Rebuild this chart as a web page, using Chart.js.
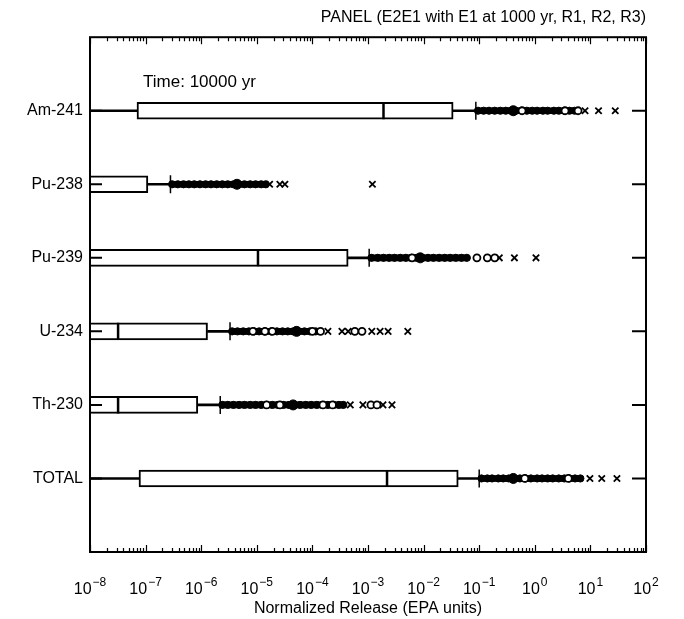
<!DOCTYPE html>
<html><head><meta charset="utf-8">
<script src="https://cdn.jsdelivr.net/npm/chart.js@4/dist/chart.umd.min.js"></script>
<style>html,body{margin:0;padding:0;background:#fff;}#wrap{width:684px;height:619px;position:relative;}</style>
</head><body><div id="wrap"><canvas id="c"></canvas></div>
<script>
const categories = ['Am-241', 'Pu-238', 'Pu-239', 'U-234', 'Th-230', 'TOTAL'];
const whiskerLow = [1e-9, null, null, null, null, 1e-9];
const q1 = [7.0e-8, 1e-9, 1e-9, 1e-9, 1e-9, 7.6e-8];
const median = [1.9e-3, 5e-9, 1.05e-5, 3.2e-8, 3.2e-8, 2.2e-3];
const q3 = [3.4e-2, 1.1e-7, 4.4e-4, 1.3e-6, 8.7e-7, 4.2e-2];
const whiskerHigh = [8.7e-2, 2.8e-7, 1.05e-3, 3.3e-6, 2.2e-6, 1.0e-1];
const meanValue = [0.41, 4.4e-6, 8.7e-3, 5.2e-5, 4.5e-5, 0.41];

const am241Dense = [0.095, 0.12, 0.15, 0.19, 0.24, 0.30, 0.37, 0.46, 0.58, 0.72, 0.90, 1.1, 1.4, 1.7, 2.2, 2.7, 3.4, 4.2, 5.2];
const pu238Dense = [3.0e-7, 3.8e-7, 4.8e-7, 6.0e-7, 7.5e-7, 9.5e-7, 1.2e-6, 1.5e-6, 1.9e-6, 2.4e-6, 3.0e-6, 3.8e-6, 4.8e-6, 6.0e-6, 7.6e-6, 9.5e-6, 1.2e-5, 1.45e-5];
const pu239Dense = [1.15e-3, 1.5e-3, 1.9e-3, 2.4e-3, 3.0e-3, 3.8e-3, 4.8e-3, 6.0e-3, 7.5e-3, 9.5e-3, 1.2e-2, 1.5e-2, 1.9e-2, 2.4e-2, 3.0e-2, 3.8e-2, 4.8e-2, 6.0e-2];
const u234Dense = [3.6e-6, 4.5e-6, 5.7e-6, 7.2e-6, 9.0e-6, 1.1e-5, 1.4e-5, 1.8e-5, 2.3e-5, 2.9e-5, 3.6e-5, 4.5e-5, 5.7e-5, 7.2e-5, 9.0e-5, 1.15e-4];
const th230Dense = [2.4e-6, 3.0e-6, 3.8e-6, 4.8e-6, 6.0e-6, 7.6e-6, 9.5e-6, 1.2e-5, 1.5e-5, 1.9e-5, 2.4e-5, 3.0e-5, 3.8e-5, 4.8e-5, 6.0e-5, 7.6e-5, 9.5e-5, 1.2e-4, 1.5e-4, 1.9e-4, 2.4e-4, 3.0e-4, 3.6e-4];
const totalDense = [0.11, 0.14, 0.17, 0.22, 0.27, 0.34, 0.43, 0.54, 0.68, 0.85, 1.1, 1.35, 1.7, 2.1, 2.7, 3.4, 4.2, 5.3, 6.6];

const am241Open = [0.59, 3.5, 6.0];
const pu238Open = [];
const pu239Open = [6.2e-3, 9.1e-2, 0.14, 0.19];
const u234Open = [8.5e-6, 1.4e-5, 1.9e-5, 1.0e-4, 1.4e-4, 5.8e-4, 7.8e-4];
const th230Open = [1.5e-5, 2.6e-5, 1.55e-4, 2.3e-4, 1.13e-3, 1.45e-3];
const totalOpen = [0.66, 4.0];

const am241Cross = [8.0, 14, 28];
const pu238Cross = [1.7e-5, 2.6e-5, 3.2e-5, 1.2e-3];
const pu239Cross = [0.23, 0.43, 1.05];
const u234Cross = [1.9e-4, 3.4e-4, 4.4e-4, 1.17e-3, 1.65e-3, 2.3e-3, 5.2e-3];
const th230Cross = [4.8e-4, 8.1e-4, 1.86e-3, 2.7e-3];
const totalCross = [9.8, 16, 30];

const tickExponents = [-8, -7, -6, -5, -4, -3, -2, -1, 0, 1, 2];
const minorMultipliers = [2, 3, 4, 5, 6, 7, 8, 9];
const titleText = 'PANEL (E2E1 with E1 at 1000 yr, R1, R2, R3)';
const noteText = 'Time: 10000 yr';
const xTitle = 'Normalized Release (EPA units)';

const FONT = '"Liberation Sans", Arial, Helvetica, sans-serif';
const denseLists = [am241Dense, pu238Dense, pu239Dense, u234Dense, th230Dense, totalDense];
const openLists = [am241Open, pu238Open, pu239Open, u234Open, th230Open, totalOpen];
const crossLists = [am241Cross, pu238Cross, pu239Cross, u234Cross, th230Cross, totalCross];
const toPoints = lists => lists.flatMap((arr, i) => arr.map(v => ({x: v, y: i})));

const decorations = {
  id: 'decorations',
  afterDatasetsDraw(chart) {
    const {ctx, chartArea: a, scales: {x, y}} = chart;
    ctx.save();
    ctx.strokeStyle = '#000';
    ctx.fillStyle = '#000';
    ctx.lineWidth = 2;
    ctx.strokeRect(a.left, a.top, a.right - a.left, a.bottom - a.top);
    ctx.lineWidth = 1.2;
    ctx.beginPath();
    tickExponents.forEach((e, k) => {
      const px = Math.round(x.getPixelForValue(Math.pow(10, e))) + 0.5;
      ctx.moveTo(px, a.bottom); ctx.lineTo(px, a.bottom - 7);
      ctx.moveTo(px, a.top); ctx.lineTo(px, a.top + 7);
      if (k < tickExponents.length - 1) {
        minorMultipliers.forEach(m => {
          const mx = Math.round(x.getPixelForValue(m * Math.pow(10, e))) + 0.5;
          ctx.moveTo(mx, a.bottom); ctx.lineTo(mx, a.bottom - 4);
          ctx.moveTo(mx, a.top); ctx.lineTo(mx, a.top + 4);
        });
      }
    });
    ctx.stroke();
    ctx.lineWidth = 2;
    ctx.beginPath();
    categories.forEach((c, i) => {
      const py = y.getPixelForValue(i);
      ctx.moveTo(a.left, py); ctx.lineTo(a.left + 12, py);
      ctx.moveTo(a.right - 14, py); ctx.lineTo(a.right, py);
    });
    ctx.stroke();
    // x tick labels with superscript exponents
    ctx.textBaseline = 'alphabetic';
    ctx.textAlign = 'left';
    tickExponents.forEach(e => {
      const px = x.getPixelForValue(Math.pow(10, e));
      const sup = e < 0 ? '\u2212' + (-e) : String(e);
      ctx.font = '16px ' + FONT;
      const w1 = ctx.measureText('10').width;
      ctx.font = '12px ' + FONT;
      const w2 = ctx.measureText(sup).width;
      const sx = px - (w1 + w2 + 1) / 2;
      ctx.font = '16px ' + FONT;
      ctx.fillText('10', sx, a.bottom + 42);
      ctx.font = '12px ' + FONT;
      ctx.fillText(sup, sx + w1 + 1, a.bottom + 34);
    });
    // annotation
    ctx.font = '17px ' + FONT;
    ctx.textBaseline = 'middle';
    ctx.fillText(noteText, x.getPixelForValue(9e-8), y.getPixelForValue(-0.39));
    ctx.restore();
  }
};

new Chart(document.getElementById('c'), {
  type: 'scatter',
  data: {
    datasets: [
      { label: 'open', data: toPoints(openLists), pointStyle: 'circle', pointRadius: 3.5, pointBackgroundColor: '#fff', pointBorderColor: '#000', pointBorderWidth: 1.8 },
      { label: 'cross', data: toPoints(crossLists), pointStyle: 'crossRot', pointRadius: 4.5, pointBorderColor: '#000', pointBorderWidth: 1.8 },
      { label: 'mean', data: meanValue.map((v, i) => ({x: v, y: i})), pointStyle: 'circle', pointRadius: 5, pointBackgroundColor: '#000', pointBorderColor: '#000', pointBorderWidth: 1 },
      { label: 'dense', data: toPoints(denseLists), pointStyle: 'circle', pointRadius: 3.6, pointBackgroundColor: '#000', pointBorderColor: '#000', pointBorderWidth: 1 },
      { type: 'bar', label: 'band', indexAxis: 'y', grouped: false, barThickness: 6, clip: 0,
        data: denseLists.map((arr, i) => ({y: i, x: [Math.min(...arr), Math.max(...arr)]})),
        backgroundColor: '#000', borderWidth: 0 },
      { label: 'cap', data: whiskerHigh.map((v, i) => ({x: v, y: i})), pointStyle: 'line', rotation: 90, pointRadius: 9, pointBorderColor: '#000', pointBorderWidth: 1.5 },
      { label: 'median', data: median.map((v, i) => ({x: v, y: i})), pointStyle: 'line', rotation: 90, pointRadius: 8.5, pointBorderColor: '#000', pointBorderWidth: 2.5, clip: 0 },
      { type: 'bar', label: 'box', indexAxis: 'y', grouped: false, barThickness: 17, clip: 0,
        data: categories.map((c, i) => ({y: i, x: [q1[i], q3[i]]})),
        backgroundColor: '#fff', borderColor: '#000', borderWidth: 2, borderSkipped: false },
      { type: 'bar', label: 'whiskerLow', indexAxis: 'y', grouped: false, barThickness: 2, clip: 0,
        data: categories.map((c, i) => whiskerLow[i] === null ? null : ({y: i, x: [whiskerLow[i], q1[i]]})).filter(d => d),
        backgroundColor: '#000', borderWidth: 0 },
      { type: 'bar', label: 'whiskerHigh', indexAxis: 'y', grouped: false, barThickness: 2, clip: 0,
        data: categories.map((c, i) => ({y: i, x: [q3[i], whiskerHigh[i]]})),
        backgroundColor: '#000', borderWidth: 0 }
    ]
  },
  options: {
    responsive: true,
    maintainAspectRatio: false,
    animation: false,
    events: [],
    layout: { padding: { top: 0, right: 38, bottom: 0, left: 0 } },
    plugins: {
      legend: { display: false },
      tooltip: { enabled: false },
      title: { display: true, text: titleText, align: 'end', color: '#000',
        font: { family: FONT, size: 16, weight: 'normal' }, padding: { top: 8, bottom: 10 } }
    },
    scales: {
      x: {
        type: 'logarithmic', position: 'bottom', min: 1e-8, max: 1e2, beginAtZero: false, offset: false,
        grid: { display: false, drawTicks: false },
        border: { display: false },
        ticks: { display: false },
        title: { display: true, text: xTitle, color: '#000', font: { family: FONT, size: 16 }, padding: { top: 4, bottom: 1 } },
        afterFit(s) { s.height = 67; }
      },
      y: {
        type: 'linear', min: -1, max: 6, reverse: true, offset: false,
        grid: { display: false, drawTicks: false, offset: false },
        border: { display: false },
        afterBuildTicks(s) { s.ticks = categories.map((c, i) => ({ value: i })); },
        ticks: { color: '#000', padding: 7, font: { family: FONT, size: 16 },
          callback: v => categories[v] !== undefined ? categories[v] : '' },
        afterFit(s) { s.width = 90; }
      }
    }
  },
  plugins: [decorations]
});
</script>
</body></html>
